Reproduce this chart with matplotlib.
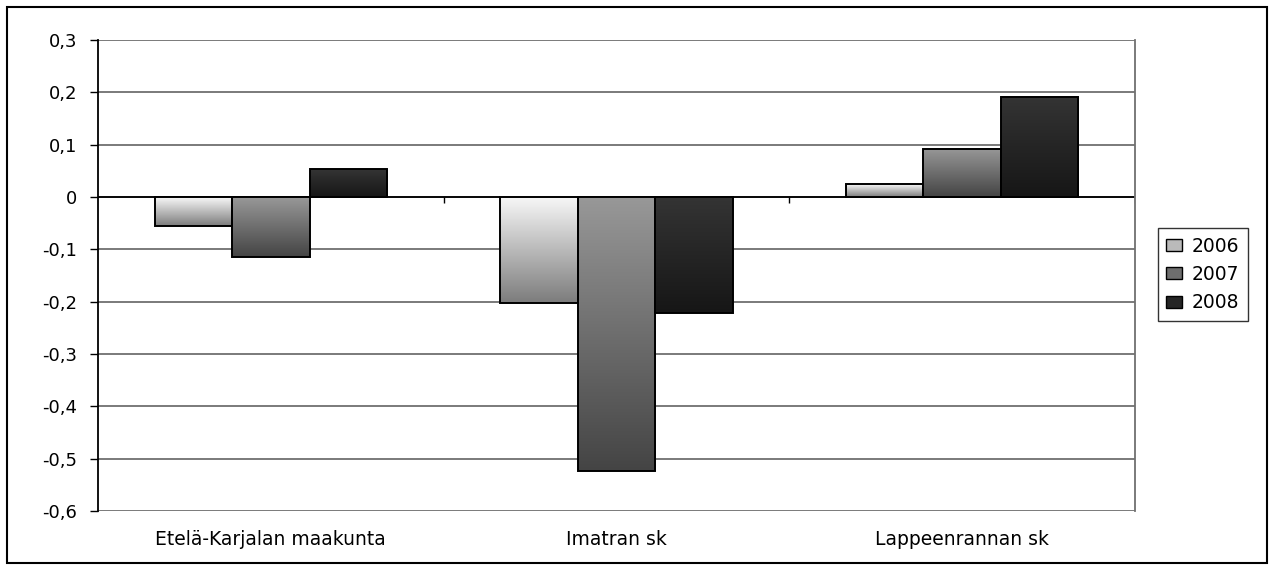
import matplotlib.pyplot as plt
import numpy as np
from matplotlib.patches import Rectangle, Patch
from matplotlib.colors import LinearSegmentedColormap

plt.rcParams['font.family'] = ['DejaVu Sans']

# Daten
categories = ['Etelä-Karjalan maakunta', 'Imatran sk', 'Lappeenrannan sk']
years = ['2006', '2007', '2008']
values_2006 = [-0.055, -0.203, 0.024]
values_2007 = [-0.114, -0.523, 0.092]
values_2008 = [0.053, -0.221, 0.192]
yticks = [0.3, 0.2, 0.1, 0, -0.1, -0.2, -0.3, -0.4, -0.5, -0.6]

# Verlauf je Serie (oben -> unten)
gradients = [('#f8f8f8', '#7c7c7c'), ('#989898', '#444444'), ('#343434', '#161616')]

fig = plt.figure(figsize=(12.71, 5.67), dpi=100)
ax = fig.add_axes([98 / 1271, 1 - 511 / 567, (1135 - 98) / 1271, (511 - 40) / 567])

x = np.arange(len(categories))
width = 0.224
series = [values_2006, values_2007, values_2008]

for i, vals in enumerate(series):
    bars = ax.bar(x + (i - 1) * width, vals, width, fill=False,
                  edgecolor='black', linewidth=1.4, zorder=4)
    cmap = LinearSegmentedColormap.from_list(f'g{i}', gradients[i])
    for b in bars:
        x0, w = b.get_x(), b.get_width()
        y0, h = b.get_y(), b.get_height()
        lo, hi = min(y0, y0 + h), max(y0, y0 + h)
        grad = np.linspace(0, 1, 256).reshape(-1, 1)
        ax.imshow(grad, cmap=cmap, extent=(x0, x0 + w, lo, hi),
                  aspect='auto', origin='upper', zorder=3, interpolation='bilinear')

ax.set_xlim(-0.5, 2.5)
ax.set_ylim(-0.6, 0.3)

# Gitter
for t in yticks:
    ax.axhline(t, color='#707070', linewidth=1.3, zorder=1)
ax.axhline(0, color='black', linewidth=1.3, zorder=2)
ax.vlines([0.5, 1.5, 2.5], -0.012, 0, color='black', linewidth=1.0, zorder=2)

ax.set_yticks(yticks)
ax.set_yticklabels([('%g' % t).replace('.', ',') for t in yticks])
ax.set_xticks(x)
ax.set_xticklabels(categories)
ax.tick_params(axis='y', length=6, width=1.0, pad=9, labelsize=13)
ax.tick_params(axis='x', length=0, pad=14, labelsize=13.5)

for s in ['top', 'bottom']:
    ax.spines[s].set_visible(False)
ax.spines['left'].set_color('black')
ax.spines['left'].set_linewidth(1.3)
ax.spines['right'].set_color('#707070')
ax.spines['right'].set_linewidth(1.3)

# Legende
handles = [Patch(facecolor=LinearSegmentedColormap.from_list('m', g)(0.5),
                 edgecolor='black', linewidth=1.0) for g in gradients]
leg = fig.legend(handles, years, loc='center left',
                 bbox_to_anchor=(1158 / 1271, 1 - 274.5 / 567),
                 fontsize=13.5, frameon=True, fancybox=False,
                 handlelength=0.85, handleheight=0.6, handletextpad=0.5,
                 labelspacing=0.5, borderpad=0.45, borderaxespad=0)
leg.get_frame().set_edgecolor('black')
leg.get_frame().set_linewidth(1.0)

# Rahmen um das ganze Bild
fig.patches.append(Rectangle((7 / 1271, 4 / 567), 1260 / 1271, 556 / 567,
                             transform=fig.transFigure, fill=False,
                             edgecolor='black', linewidth=1.5))

fig.savefig('out.png', dpi=100)
